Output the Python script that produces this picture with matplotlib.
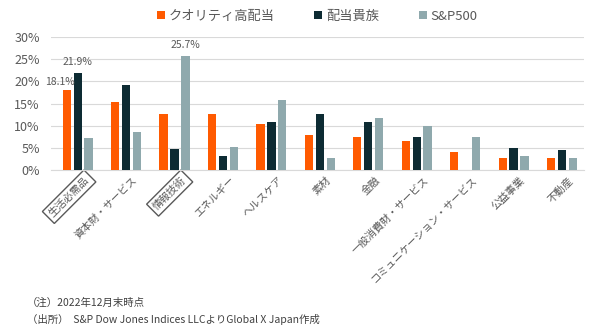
import matplotlib.pyplot as plt
import numpy as np

plt.rcParams['font.family'] = ['Noto Sans CJK JP', 'DejaVu Sans']

sectors = ['生活必需品', '資本財・サービス', '情報技術', 'エネルギー', 'ヘルスケア', '素材', '金融',
           '一般消費財・サービス', 'コミュニケーション・サービス', '公益事業', '不動産']
quality = [18.1, 15.4, 12.6, 12.6, 10.3, 7.8, 7.5, 6.5, 4.0, 2.6, 2.6]
aristocrats = [21.9, 19.2, 4.7, 3.1, 10.8, 12.6, 10.9, 7.4, 0.0, 5.0, 4.5]
sp500 = [7.2, 8.6, 25.7, 5.3, 15.8, 2.6, 11.7, 10.0, 7.4, 3.2, 2.8]
series_names = ['クオリティ高配当', '配当貴族', 'S&P500']
boxed = ['生活必需品', '情報技術']

colors = ['#FF5A00', '#0D2B33', '#8FA9AD']
txt = '#595959'

fig = plt.figure(figsize=(6, 3.32), dpi=100)
ax = fig.add_axes([0.085, 0.488, 0.888, 0.40])

x = np.arange(len(sectors))
w = 0.17
off = 0.225
for i, vals in enumerate([quality, aristocrats, sp500]):
    ax.bar(x + 0.05 + (i - 1) * off, vals, width=w, color=colors[i], label=series_names[i], zorder=3)

# labels only on the highlighted bars
ax.text(0 - off - 0.1, quality[0] + 1.8, f'{quality[0]}%', ha='center', va='center', fontsize=7.5, color=txt)
ax.text(0.05, aristocrats[0] + 1.3, f'{aristocrats[0]}%', ha='center', va='bottom', fontsize=7.5, color=txt)
ax.text(2.05 + off, sp500[2] + 1.3, f'{sp500[2]}%', ha='center', va='bottom', fontsize=7.5, color=txt)

ax.set_xlim(-0.5, len(sectors) - 0.5)
ax.set_ylim(0, 30)
ax.set_yticks(range(0, 31, 5))
ax.set_yticklabels([f'{v}%' for v in range(0, 31, 5)], fontsize=9, color=txt)
ax.grid(axis='y', color='#D9D9D9', linewidth=0.8, zorder=0)
for s in ['top', 'right', 'left']:
    ax.spines[s].set_visible(False)
ax.spines['bottom'].set_color('#D9D9D9')
ax.tick_params(axis='both', length=0)
ax.tick_params(axis='y', pad=8)

ax.set_xticks(x + 0.18)
ax.set_xticklabels(sectors, rotation=45, ha='right', rotation_mode='anchor', fontsize=7.5, color=txt)
for lbl in ax.get_xticklabels():
    if lbl.get_text() in boxed:
        lbl.set_bbox(dict(facecolor='white', edgecolor='#595959', linewidth=1, pad=2.5))

ax.legend(loc='lower center', bbox_to_anchor=(0.5, 1.02), ncol=3, frameon=False, fontsize=9.5,
          handlelength=0.6, handleheight=0.6, handletextpad=0.3, columnspacing=3.0, labelcolor=txt)

fig.text(0.045, 0.078, '（注）2022年12月末時点', fontsize=7.5, color='#404040')
fig.text(0.045, 0.028, '（出所）  S&P Dow Jones Indices LLCよりGlobal X Japan作成', fontsize=7.5, color='#404040')

fig.savefig('out.png', dpi=100, facecolor='white')
